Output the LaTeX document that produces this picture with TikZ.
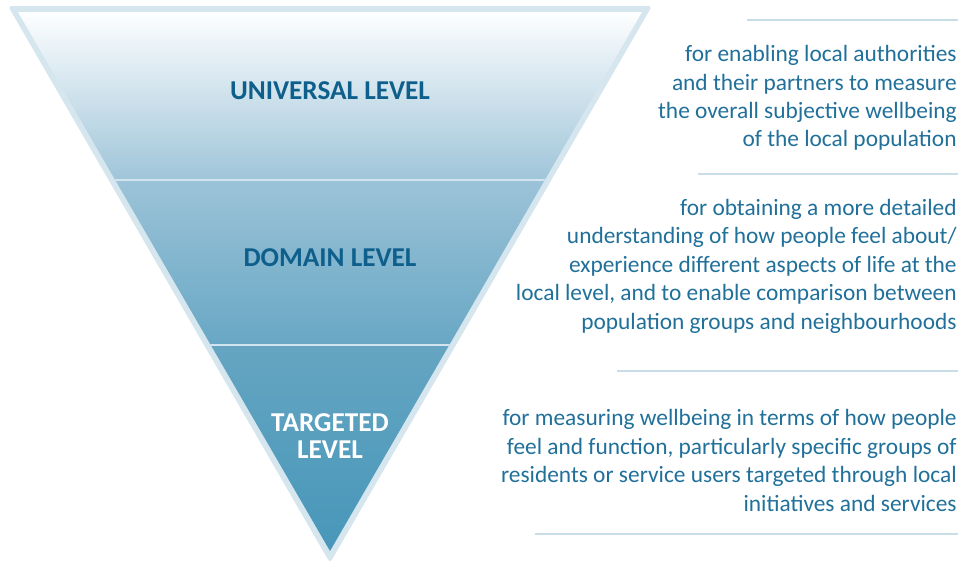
\documentclass[tikz,border=0pt]{standalone}
\usepackage{fontspec}
\setmainfont{Carlito}
\usetikzlibrary{positioning}

\definecolor{titleblue}{HTML}{0E5F8B}
\definecolor{textblue}{HTML}{20709A}
\definecolor{rulecol}{HTML}{C9DDE8}
\definecolor{rimcol}{HTML}{D6E6EF}
\definecolor{lineonecol}{HTML}{D2E4ED}
\definecolor{bandatop}{HTML}{FDFEFF}
\definecolor{bandabot}{HTML}{9FC5D9}
\definecolor{bandbtop}{HTML}{9CC3D8}
\definecolor{bandbbot}{HTML}{68A7C4}
\definecolor{bandctop}{HTML}{65A5C2}
\definecolor{bandcbot}{HTML}{4696B9}

\begin{document}
\begin{tikzpicture}[x=0.02cm, y=-0.02cm]
  \tikzstyle{lvl}=[font=\bfseries\fontsize{15.5}{15.5}\selectfont, text=titleblue, align=center, inner sep=0pt]
  \tikzstyle{desc}=[font=\fontsize{13.3}{16.2}\selectfont, text=textblue, align=right, anchor=east, inner sep=0pt]
  \tikzstyle{rule}=[rulecol, line width=2.5*0.02cm]
  \tikzstyle{divider}=[lineonecol, line width=2*0.02cm]

  \useasboundingbox (0,0) rectangle (962,565);

  % Funnel
  \fill[rimcol, rounded corners=2] (8,6) -- (652,6) -- (330,563) -- cycle;
  \begin{scope}
    \clip (18,12) -- (642,12) -- (330,551) -- cycle;
    \shade[top color=bandatop, bottom color=bandabot] (0,12) rectangle (660,180);
    \shade[top color=bandbtop, bottom color=bandbbot] (0,180) rectangle (660,345);
    \shade[top color=bandctop, bottom color=bandcbot] (0,345) rectangle (660,560);
    \draw[divider] (0,180) -- (660,180);
    \draw[divider] (0,345) -- (660,345);
  \end{scope}

  \node[lvl] (universal) at (330,91) {UNIVERSAL LEVEL};
  \node[lvl] (domain) at (330,258) {DOMAIN LEVEL};
  \node[lvl, text=white] (targeted) at (330,436) {TARGETED\\LEVEL};

  % Rules on the right
  \foreach \y/\x in {20/747, 174/698, 371/617, 534/535}
    \draw[rule] (\x,\y) -- (958,\y);

  \node[desc] (universaltxt) at (957,98) {for enabling local authorities\\and their partners to measure\\the overall subjective wellbeing\\of the local population};
  \node[desc] (domaintxt) at (957,266) {for obtaining a more detailed\\understanding of how people feel about/\\experience different aspects of life at the\\local level, and to enable comparison between\\population groups and neighbourhoods};
  \node[desc] (targetedtxt) at (957,460.5) {for measuring wellbeing in terms of how people\\feel and function, particularly specific groups of\\residents or service users targeted through local\\initiatives and services};
\end{tikzpicture}
\end{document}
